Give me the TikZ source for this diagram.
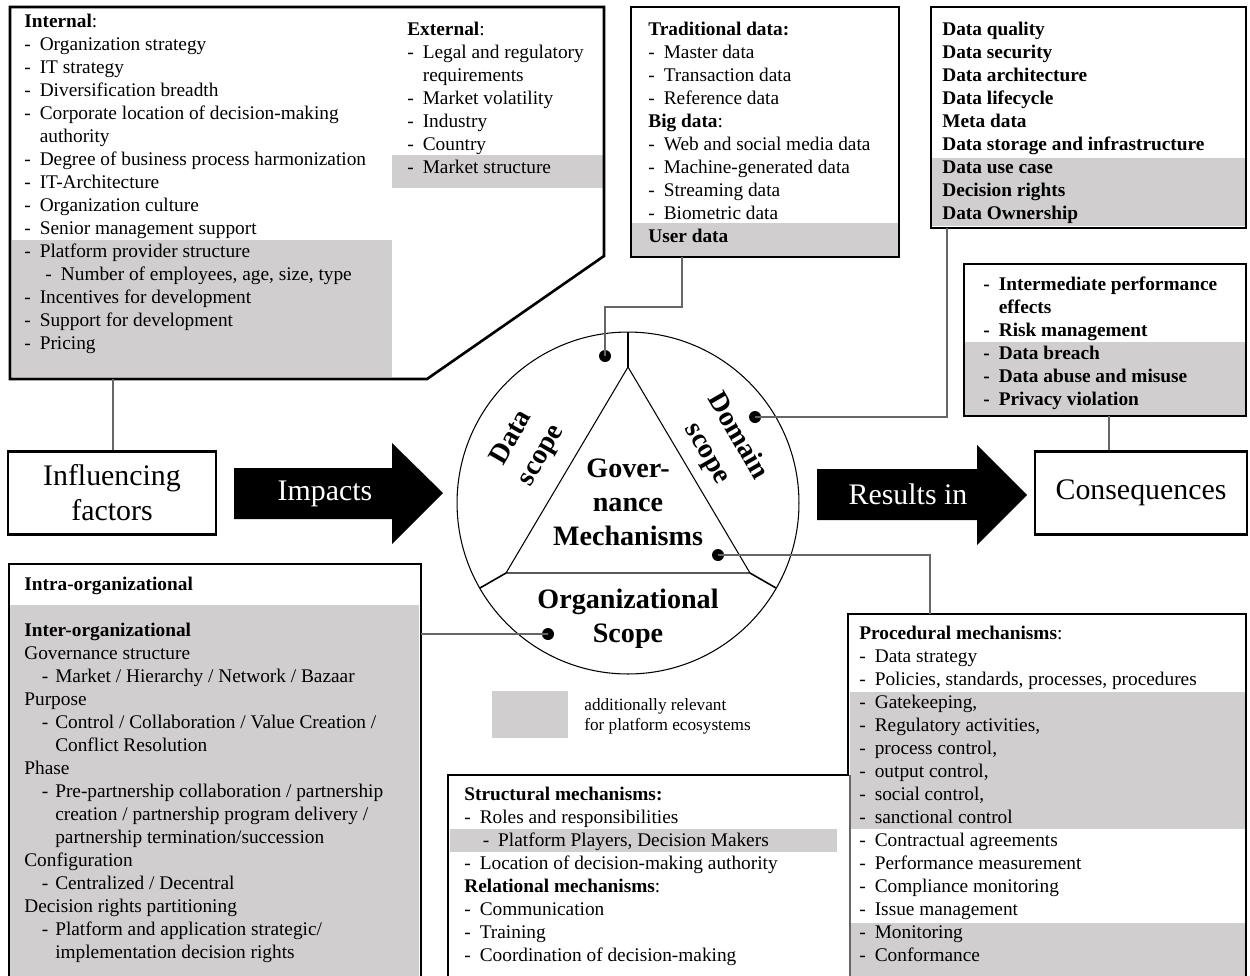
\documentclass[tikz,border=0pt]{standalone}
\usepackage{fontspec}
\setmainfont{Liberation Serif}
\usepackage{tikz}
\usetikzlibrary{calc}
\definecolor{platgray}{RGB}{208,206,207}
\def\dsh{\makebox[8.8pt][l]{-}}
\def\ind#1{\hspace*{#1}}

\begin{document}
\begin{tikzpicture}[x=0.02cm, y=-0.02cm,
    boxline/.style={line width=1.5pt},
    conn/.style={draw=black!60, line width=0.6pt},
    thin/.style={line width=0.6pt},
    dot/.style={circle, fill=black, inner sep=0pt, minimum size=0.24cm},
    txt/.style={anchor=north west, yshift=7.6pt, inner sep=0pt, align=left, execute at begin node={\rule{0pt}{10pt}}, font=\fontsize{11}{13.1}\selectfont},
    small/.style={txt, font=\fontsize{9.8}{11.4}\selectfont},
    big/.style={draw, boxline, align=center, inner sep=0pt, minimum width=4.16cm, minimum height=1.66cm, font=\fontsize{17}{19.9}\selectfont},
    arrowlbl/.style={text=white, inner sep=0pt, font=\fontsize{17}{19.9}\selectfont},
    scopelbl/.style={align=center, inner sep=0pt, font=\bfseries\fontsize{16}{19.6}\selectfont}]
    %%%%% START %%%%%
    
    \useasboundingbox (0,0) rectangle (1250,975);
    \clip (0,0) rectangle (1250,975);
    
    % shaded parts: additionally relevant for platform ecosystems
    \fill[platgray] (12,240) rectangle (392,377);
    \fill[platgray] (392,155) rectangle (603,188);
    \fill[platgray] (632,223) rectangle (898,256);
    \fill[platgray] (932,158) rectangle (1245,226);
    \fill[platgray] (965,342) rectangle (1245,415);
    \fill[platgray] (10,605) rectangle (419,980);
    \fill[platgray] (450,829) rectangle (837,852);
    \fill[platgray] (850,692) rectangle (1245,829);
    \fill[platgray] (850,923) rectangle (1245,980);
    \fill[platgray] (492,691) rectangle (568,738);
    
    % frames
    \draw[boxline] (10,7) -- (604,7) -- (604,256) -- (427,379) -- (10,379) -- cycle;
    \draw[boxline] (631,7) rectangle (899,257);
    \draw[boxline] (931,7) rectangle (1246,228);
    \draw[boxline] (964,264) rectangle (1246,416);
    \draw[boxline] (9,985) -- (9,564) -- (421,564) -- (421,985);
    \draw[boxline] (448,985) -- (448,775) -- (848,775) -- (848,614) -- (1246,614) -- (1246,985);
    \draw[conn] (850,775) -- (850,985);
    
    % influencing factors
    \node[txt] (internal) at (24,27) {\textbf{Internal}:\\
        \dsh Organization strategy\\
        \dsh IT strategy\\
        \dsh Diversification breadth\\
        \dsh Corporate location of decision-making\\
        \ind{8.8pt}authority\\
        \dsh Degree of business process harmonization\\
        \dsh IT-Architecture\\
        \dsh Organization culture\\
        \dsh Senior management support\\
        \dsh Platform provider structure\\
        \ind{12pt}\dsh Number of employees, age, size, type\\
        \dsh Incentives for development\\
        \dsh Support for development\\
        \dsh Pricing};
    \node[txt] (external) at (407,35) {\textbf{External}:\\
        \dsh Legal and regulatory\\
        \ind{8.8pt}requirements\\
        \dsh Market volatility\\
        \dsh Industry\\
        \dsh Country\\
        \dsh Market structure};
    
    % data scope
    \node[txt] (datalist) at (648,35) {\textbf{Traditional data:}\\
        \dsh Master data\\
        \dsh Transaction data\\
        \dsh Reference data\\
        \textbf{Big data}:\\
        \dsh Web and social media data\\
        \dsh Machine-generated data\\
        \dsh Streaming data\\
        \dsh Biometric data\\
        \textbf{User data}};
    
    % domain scope
    \node[txt, font=\bfseries\fontsize{11}{13.1}\selectfont] (domainlist) at (942,35) {Data quality\\
        Data security\\
        Data architecture\\
        Data lifecycle\\
        Meta data\\
        Data storage and infrastructure\\
        Data use case\\
        Decision rights\\
        Data Ownership};
    
    % consequences
    \node[txt, font=\bfseries\fontsize{11}{13.1}\selectfont] (conslist) at (983,290) {\dsh Intermediate performance\\
        \ind{8.8pt}effects\\
        \dsh Risk management\\
        \dsh Data breach\\
        \dsh Data abuse and misuse\\
        \dsh Privacy violation};
    
    % organizational scope
    \node[txt] (orglist) at (24,590) {\textbf{Intra-organizational}\\[13.1pt]
        \textbf{Inter-organizational}\\
        Governance structure\\
        \ind{10pt}\makebox[7.6pt][l]{-}Market / Hierarchy / Network / Bazaar\\
        Purpose\\
        \ind{10pt}\makebox[7.6pt][l]{-}Control / Collaboration / Value Creation /\\
        \ind{17.6pt}Conflict Resolution\\
        Phase\\
        \ind{10pt}\makebox[7.6pt][l]{-}Pre-partnership collaboration / partnership\\
        \ind{17.6pt}creation / partnership program delivery /\\
        \ind{17.6pt}partnership termination/succession\\
        Configuration\\
        \ind{10pt}\makebox[7.6pt][l]{-}Centralized / Decentral\\
        Decision rights partitioning\\
        \ind{10pt}\makebox[7.6pt][l]{-}Platform and application strategic/\\
        \ind{17.6pt}implementation decision rights};
    
    % governance mechanisms
    \node[txt] (structlist) at (464,800) {\textbf{Structural mechanisms:}\\
        \dsh Roles and responsibilities\\
        \ind{10.5pt}\dsh Platform Players, Decision Makers\\
        \dsh Location of decision-making authority\\
        \textbf{Relational mechanisms}:\\
        \dsh Communication\\
        \dsh Training\\
        \dsh Coordination of decision-making};
    \node[txt] (proclist) at (859,639) {\textbf{Procedural mechanisms}:\\
        \dsh Data strategy\\
        \dsh Policies, standards, processes, procedures\\
        \dsh Gatekeeping,\\
        \dsh Regulatory activities,\\
        \dsh process control,\\
        \dsh output control,\\
        \dsh social control,\\
        \dsh sanctional control\\
        \dsh Contractual agreements\\
        \dsh Performance measurement\\
        \dsh Compliance monitoring\\
        \dsh Issue management\\
        \dsh Monitoring\\
        \dsh Conformance};
    
    % legend
    \node[small] (legend) at (584,712) {additionally relevant\\for platform ecosystems};
    
    % circle with the triangle
    \draw[thin] (628,503) circle (3.42cm);
    \draw[thin] (628,367) -- (506,573) -- (750,573) -- cycle;
    \draw[thin] (628,367) -- (628,332);
    \draw[line width=0.9pt] (506,573) -- (480,588);
    \draw[line width=0.9pt] (750,573) -- (776,588);
    \node[scopelbl, rotate=60] (datascope) at (527,447) {Data\\scope};
    \node[scopelbl, rotate=-60] (domainscope) at (722,445) {Domain\\scope};
    \node[scopelbl, font=\bfseries\fontsize{16}{19.3}\selectfont] (gov) at (628,502) {Gover-\\nance\\Mechanisms};
    \node[scopelbl] (orgscope) at (628,619) {Organizational\\Scope};
    
    % main row
    \node[big] (infl) at (112,493) {Influencing\\factors};
    \node[big, minimum width=4.24cm] (cons) at (1141,493) {Consequences};
    \fill (234,468) -- (392,468) -- (392,443) -- (443,493) -- (392,544) -- (392,519) -- (234,519) -- cycle;
    \node[arrowlbl] (impacts) at (325,494) {Impacts};
    \fill (817,469) -- (977,469) -- (977,445) -- (1027,495) -- (977,545) -- (977,520) -- (817,520) -- cycle;
    \node[arrowlbl] (results) at (908,494) {Results in};
    
    % connectors
    \coordinate (databot) at (682,257);
    \coordinate (domainbot) at (947,228);
    \coordinate (proctop) at (930,614);
    \coordinate (orgright) at (421,634);
    \coordinate (inflbot) at (113,379);
    \coordinate (consbot) at (1109,416);
    \node[dot] (datadot) at (605,356) {};
    \node[dot] (domaindot) at (755,417) {};
    \node[dot] (govdot) at (718,555) {};
    \node[dot] (orgdot) at (548,634) {};
    \draw[conn] (datadot.center) -- (datadot |- 0,307) -| (databot);
    \draw[conn] (domaindot.center) -| (domainbot);
    \draw[conn] (govdot.center) -| (proctop);
    \draw[conn] (orgdot.center) -- (orgright);
    \draw[conn] (infl.north -| inflbot) -- (inflbot);
    \draw[conn] (cons.north -| consbot) -- (consbot);
    
    %%%%% END %%%%%
\end{tikzpicture}
\end{document}
